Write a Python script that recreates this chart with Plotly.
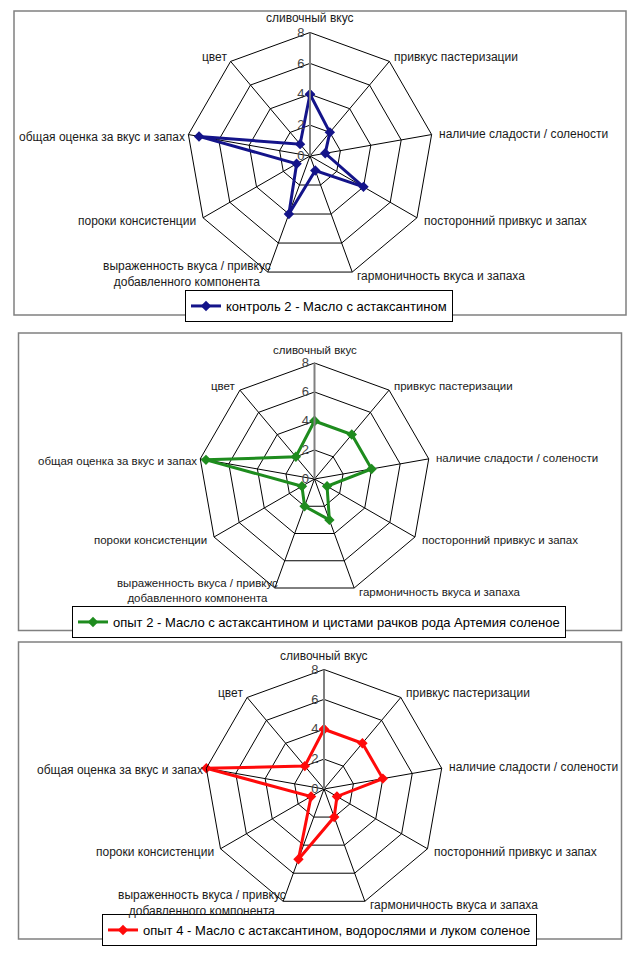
import math
import plotly.graph_objects as go

# page is 639x956; the html body adds an 8px margin, so the figure is drawn 8px in
OFF = 8
W, H = 639 - OFF, 956 - OFF

categories = [
    "сливочный вкус",
    "привкус пастеризации",
    "наличие сладости / солености",
    "посторонний привкус и запах",
    "гармоничность вкуса и запаха",
    "выраженность вкуса / привкус<br>добавленного компонента",
    "пороки консистенции",
    "общая оценка за вкус и запах",
    "цвет",
]

radial_ticks = [0, 2, 4, 6, 8]

control2_values = [4, 2, 1, 4, 1, 4, 1, 7.3, 1]
exp2_values = [4, 4, 4, 1, 3, 2, 1, 7.6, 2]
exp4_values = [4, 4, 4, 1, 2, 5, 1, 8, 2]

series_names = [
    "контроль 2 - Масло с астаксантином",
    "опыт 2 - Масло с астаксантином и цистами рачков рода Артемия соленое",
    "опыт 4 - Масло с астаксантином, водорослями и луком соленое",
]
series_values = [control2_values, exp2_values, exp4_values]
series_colors = ["#14148a", "#1e8c1e", "#ff0a0a"]

# layout geometry (page pixels): centre x, centre y (from top), radius
charts = [(310, 156, 123.5), (314.5, 479, 116), (324, 789, 119.5)]
frames = [(14, 11, 626, 315), (18.5, 333, 621.5, 630.5), (18.5, 642, 621.5, 939)]
legend_pos = [(185, 290), (72, 606), (102, 914)]
label_sizes = [12, 11.5, 12]

# label placement around each vertex: xanchor, yanchor, xshift, yshift
label_place = [
    ("center", "bottom", 0, 5),
    ("left", "middle", 3, 4),
    ("left", "middle", 5, 1),
    ("left", "middle", 5, -3),
    ("left", "middle", 3, -4),
    ("right", "middle", 5, -2),
    ("right", "middle", -5, -3),
    ("right", "middle", -1, -2),
    ("right", "middle", -2, 4),
]

FONT = "Liberation Sans, Arial, sans-serif"


def px(x):
    return (x - OFF) / W


def py(y):
    return 1 - (y - OFF) / H


fig = go.Figure()
layout = dict(
    width=W, height=H,
    margin=dict(l=0, r=0, t=0, b=0),
    paper_bgcolor="white",
    plot_bgcolor="white",
    showlegend=True,
    shapes=[],
    annotations=[],
)

n = len(categories)
for i, (name, vals, col) in enumerate(zip(series_names, series_values, series_colors)):
    pkey = "polar" if i == 0 else f"polar{i+1}"
    lkey = "legend" if i == 0 else f"legend{i+1}"
    fig.add_trace(go.Scatterpolar(
        r=list(vals) + [vals[0]],
        theta=categories + [categories[0]],
        mode="lines+markers",
        name=name,
        line=dict(color=col, width=3),
        marker=dict(symbol="diamond", size=8, color=col),
        subplot=pkey,
        legend=lkey,
    ))
    cx, cy, R = charts[i]
    layout[pkey] = dict(
        domain=dict(x=[px(cx - R), px(cx + R)], y=[py(cy + R), py(cy - R)]),
        bgcolor="white",
        gridshape="linear",
        angularaxis=dict(
            type="category", categoryarray=categories,
            direction="clockwise", rotation=90,
            showline=True, linecolor="black", linewidth=1,
            showgrid=True, gridcolor="black", gridwidth=0.8,
            ticks="", showticklabels=False,
        ),
        radialaxis=dict(
            range=[0, 8], tickvals=radial_ticks, angle=90,
            showline=True, linecolor="#808080", linewidth=2,
            showgrid=True, gridcolor="black", gridwidth=0.8,
            ticks="", tickangle=90, side="counterclockwise",
            tickfont=dict(family=FONT, size=13, color="#444"),
        ),
    )
    # category labels next to the polygon vertices
    for k, cat in enumerate(categories):
        th = math.radians(360.0 * k / n)
        vx = cx + R * math.sin(th)
        vy = cy - R * math.cos(th)
        xa, ya, xs, ys = label_place[k]
        layout["annotations"].append(dict(
            text=cat, x=px(vx), y=py(vy), xref="paper", yref="paper",
            xanchor=xa, yanchor=ya, xshift=xs, yshift=ys,
            showarrow=False, align="center",
            font=dict(family=FONT, size=label_sizes[i], color="#1a1a1a"),
        ))
    lx, ly = legend_pos[i]
    layout[lkey] = dict(
        x=px(lx), y=py(ly), xanchor="left", yanchor="top",
        bgcolor="white", bordercolor="black", borderwidth=1,
        font=dict(family=FONT, size=13, color="black"),
    )
    x0, y0, x1, y1 = frames[i]
    layout["shapes"].append(dict(
        type="rect", xref="paper", yref="paper",
        x0=px(x0), x1=px(x1), y0=py(y1), y1=py(y0),
        line=dict(color="#808080", width=1.5), layer="below",
    ))

fig.update_layout(**layout)
fig.write_html("out.html")
